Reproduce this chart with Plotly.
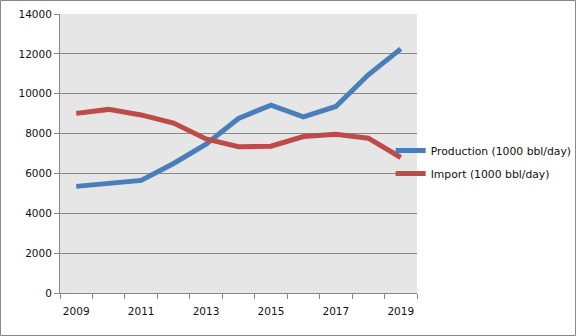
import plotly.graph_objects as go

years = [2009, 2010, 2011, 2012, 2013, 2014, 2015, 2016, 2017, 2018, 2019]
production = [5350, 5480, 5650, 6500, 7470, 8760, 9430, 8840, 9360, 10950, 12250]
imports = [9013, 9213, 8935, 8527, 7730, 7344, 7363, 7850, 7969, 7768, 6800]
label_years = [2009, 2011, 2013, 2015, 2017, 2019]
y_ticks = [0, 2000, 4000, 6000, 8000, 10000, 12000, 14000]

W, H = 576, 336
L, R, T, B = 60, 159, 14, 43
pw, ph = W - L - R, H - T - B

fig = go.Figure()
fig.add_trace(go.Scatter(x=years, y=production, mode="lines", name="Production (1000 bbl/day)",
                         line=dict(color="#4a7ebb", width=5), legendgroup="a"))
fig.add_trace(go.Scatter(x=years, y=imports, mode="lines", name="Import (1000 bbl/day)",
                         line=dict(color="#be4b48", width=5), legendgroup="b"))

font = dict(family="DejaVu Sans", size=10.5, color="#111")
fig.update_layout(
    width=W, height=H,
    margin=dict(l=L, r=R, t=T, b=B, autoexpand=False),
    paper_bgcolor="white", plot_bgcolor="#e6e6e6",
    font=font,
    legend=dict(x=(396 - L) / pw - 0.015, y=(H - B - 136) / ph, xanchor="left", yanchor="top",
                bgcolor="rgba(0,0,0,0)", traceorder="grouped", tracegroupgap=4,
                font=dict(family="DejaVu Sans", size=10.8, color="#111")),
    xaxis=dict(range=[2008.5, 2019.5], tickvals=label_years, ticks="", showgrid=False,
               showline=True, linecolor="#888", linewidth=1, zeroline=False,
               ticklabelstandoff=8,
               minor=dict(tickvals=[y - 0.5 for y in years] + [2019.5], ticks="outside",
                          ticklen=5, tickcolor="#888", showgrid=False),
               tickfont=font),
    yaxis=dict(range=[0, 14000], tickvals=y_ticks, ticktext=[str(v) for v in y_ticks],
               showgrid=True, gridcolor="#888", gridwidth=1,
               ticks="outside", ticklen=5, tickcolor="#888", showline=True, linecolor="#888",
               linewidth=1, zeroline=False, tickfont=font),
    shapes=[dict(type="rect", xref="paper", yref="paper",
                 x0=(0.5 - L) / pw, x1=(W - 0.5 - L) / pw,
                 y0=(H - B - (H - 0.5)) / ph, y1=(H - B - 0.5) / ph,
                 line=dict(color="#888", width=1), layer="below")],
)
fig.write_html("out.html")
